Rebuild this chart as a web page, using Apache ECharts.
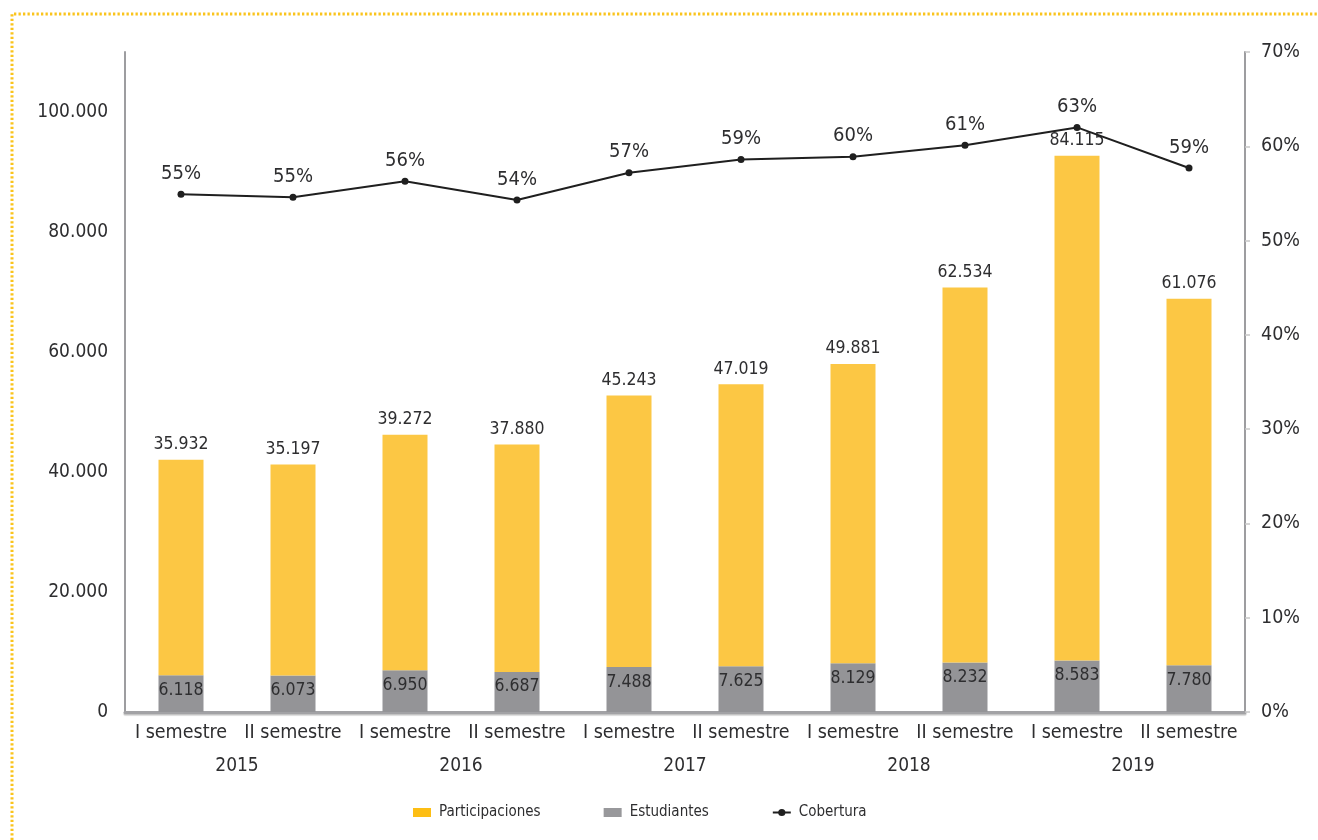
<!DOCTYPE html>
<html>
<head>
<meta charset="utf-8">
<script src="https://cdn.jsdelivr.net/npm/echarts@6/dist/echarts.min.js"></script>
<style>
html,body{margin:0;padding:0;background:#fff;}
#c{width:1318px;height:840px;}
</style>
</head>
<body>
<div id="c"></div>
<script>
var semesters = ['I semestre','II semestre','I semestre','II semestre','I semestre','II semestre','I semestre','II semestre','I semestre','II semestre'];
var years = ['2015','2016','2017','2018','2019'];
var participaciones = [35932, 35197, 39272, 37880, 45243, 47019, 49881, 62534, 84115, 61076];
var estudiantes = [6118, 6073, 6950, 6687, 7488, 7625, 8129, 8232, 8583, 7780];
var cobertura = [54.9, 54.6, 56.3, 54.3, 57.2, 58.6, 58.9, 60.1, 62.0, 57.7];
var coberturaLabels = ['55%','55%','56%','54%','57%','59%','60%','61%','63%','59%'];
var leftTicks = [0, 20000, 40000, 60000, 80000, 100000];

var FONT = "'DejaVu Sans Condensed','Liberation Sans Narrow','Roboto',sans-serif";
var TXT = '#2e2e30';
function fmt(v){ return String(v).replace(/\B(?=(\d{3})+(?!\d))/g,'.'); }

var chart = echarts.init(document.getElementById('c'));
chart.setOption({
  backgroundColor:'#fff',
  textStyle:{fontFamily:FONT},
  animation:false,
  graphic:[
    {type:'polyline', shape:{points:[[12,840],[12,14],[1318,14]]},
     style:{stroke:'#FAC41C', lineWidth:3, lineDash:[2.3,2.2], fill:null}, silent:true}
  ],
  grid:{left:125, right:73, top:52, bottom:128, containLabel:false},
  legend:{
    left:408, top:800, itemGap:63, itemWidth:18, itemHeight:9,
    textStyle:{fontFamily:FONT, fontSize:15, color:TXT, padding:[0,0,0,3]},
    data:[
      {name:'Participaciones', icon:'rect', itemStyle:{color:'#FDBE14'}},
      {name:'Estudiantes', icon:'rect', itemStyle:{color:'#98989B'}},
      {name:'Cobertura'}
    ]
  },
  xAxis:[
    {type:'category', data:semesters, position:'bottom',
     axisLine:{show:true, lineStyle:{color:'#a2a2a5', width:3, shadowColor:'rgba(0,0,0,0.25)', shadowOffsetY:1.5, shadowBlur:1}},
     axisTick:{show:false},
     axisLabel:{fontFamily:FONT, fontSize:19.5, color:TXT, margin:11, interval:0}},
    {type:'category', data:years, position:'bottom', offset:33,
     axisLine:{show:false}, axisTick:{show:false},
     axisLabel:{fontFamily:FONT, fontSize:19, color:TXT, margin:12, interval:0}}
  ],
  yAxis:[
    {type:'value', min:0, max:110000, interval:20000,
     axisLine:{show:true, lineStyle:{color:'#9d9da0', width:2}},
     axisTick:{show:false}, splitLine:{show:false},
     axisLabel:{fontFamily:FONT, fontSize:19, color:TXT, margin:17, showMaxLabel:false,
       formatter:function(v){ return leftTicks.indexOf(v) >= 0 ? fmt(v) : ''; }}},
    {type:'value', min:0, max:70, interval:10, position:'right',
     axisLine:{show:true, lineStyle:{color:'#9d9da0', width:2}},
     axisTick:{show:true, length:5, lineStyle:{color:'#c8c8c8', width:1.5}},
     splitLine:{show:false},
     axisLabel:{fontFamily:FONT, fontSize:19.5, color:TXT, margin:16, formatter:'{value}%'}}
  ],
  series:[
    {name:'Estudiantes', type:'bar', stack:'t', data:estudiantes, barWidth:45,
     xAxisIndex:0, yAxisIndex:0,
     itemStyle:{color:'#949497'},
     label:{show:true, position:'insideTop', distance:6, fontFamily:FONT, fontSize:17.5, color:TXT,
       formatter:function(p){ return fmt(p.value); }}},
    {name:'Participaciones', type:'bar', stack:'t', data:participaciones, barWidth:45,
     xAxisIndex:0, yAxisIndex:0,
     itemStyle:{color:'#FCC744'},
     label:{show:true, position:'top', distance:6, fontFamily:FONT, fontSize:17.5, color:TXT,
       formatter:function(p){ return fmt(p.value); }}},
    {name:'Cobertura', type:'line', data:cobertura, xAxisIndex:0, yAxisIndex:1,
     symbol:'circle', symbolSize:7, z:5,
     lineStyle:{color:'#1f1f1f', width:2}, itemStyle:{color:'#1f1f1f'},
     label:{show:true, position:'top', distance:7, fontFamily:FONT, fontSize:20, color:TXT,
       formatter:function(p){ return coberturaLabels[p.dataIndex]; }}}
  ]
});
</script>
</body>
</html>
